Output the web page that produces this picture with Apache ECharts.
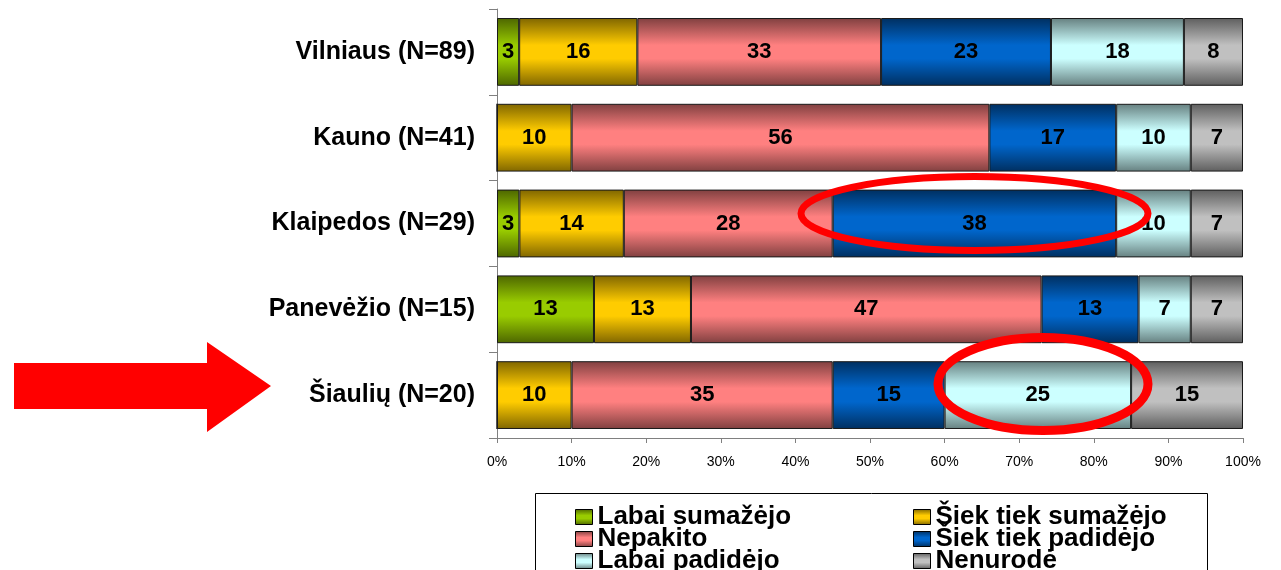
<!DOCTYPE html>
<html>
<head>
<meta charset="utf-8">
<script src="https://cdn.jsdelivr.net/npm/echarts@6/dist/echarts.min.js"></script>
<style>
  html, body { margin: 0; padding: 0; background: #fff; }
  #chart { width: 1281px; height: 570px; }
</style>
</head>
<body>
<div id="chart"></div>
<script>
// regions, top to bottom
const regions = ['Vilniaus (N=89)', 'Kauno (N=41)', 'Klaipedos (N=29)', 'Panevėžio (N=15)', 'Šiaulių (N=20)'];

// answers per region (raw values as printed on the bars)
const labaiSumazejo = [3, 0, 3, 13, 0];
const siekTiekSumazejo = [16, 10, 14, 13, 10];
const nepakito = [33, 56, 28, 47, 35];
const siekTiekPadidejo = [23, 17, 38, 13, 15];
const labaiPadidejo = [18, 10, 10, 7, 25];
const nenurode = [8, 7, 7, 7, 15];

const xTicks = [0, 10, 20, 30, 40, 50, 60, 70, 80, 90, 100];

const seriesNames = ['Labai sumažėjo', 'Šiek tiek sumažėjo', 'Nepakito', 'Šiek tiek padidėjo', 'Labai padidėjo', 'Nenurodė'];
const seriesValues = [labaiSumazejo, siekTiekSumazejo, nepakito, siekTiekPadidejo, labaiPadidejo, nenurode];
// [dark edge, bright middle]
const colors = [
  ['#4d6600', '#99cc00'],
  ['#806600', '#ffcc00'],
  ['#804040', '#ff8080'],
  ['#002f60', '#0066cc'],
  ['#668080', '#ccffff'],
  ['#5e5e5e', '#c0c0c0']
];

const FONT = '"Liberation Sans", Arial, sans-serif';

// row totals for the 100% stacking
const totals = regions.map((r, i) => seriesValues.reduce((s, arr) => s + arr[i], 0));

function shade(c) {
  return new echarts.graphic.LinearGradient(0, 0, 0, 1, [
    { offset: 0, color: c[0] },
    { offset: 0.4, color: c[1] },
    { offset: 0.6, color: c[1] },
    { offset: 1, color: c[0] }
  ]);
}

const series = seriesNames.map((name, k) => ({
  name: name,
  type: 'bar',
  stack: 'all',
  barCategoryGap: '21%',
  data: seriesValues[k].map((v, i) => ({ value: v / totals[i] * 100, raw: v })),
  itemStyle: { color: shade(colors[k]), borderColor: '#1a1a1a', borderWidth: 1 },
  label: {
    show: true,
    position: 'inside',
    color: '#000',
    fontFamily: FONT,
    fontWeight: 'bold',
    fontSize: 22,
    formatter: p => (p.data.raw ? String(p.data.raw) : '')
  }
}));

const legendCommon = {
  orient: 'vertical',
  top: 499,
  height: 120,
  icon: 'rect',
  itemWidth: 17,
  itemHeight: 15,
  itemGap: -4,
  itemStyle: { borderColor: '#000', borderWidth: 1 },
  textStyle: { fontFamily: FONT, fontWeight: 'bold', fontSize: 26, color: '#000', lineHeight: 15 }
};

const chart = echarts.init(document.getElementById('chart'));
chart.setOption({
  animation: false,
  grid: { left: 497, right: 38, top: 9, bottom: 132 },
  xAxis: {
    type: 'value',
    min: 0,
    max: 100,
    interval: 10,
    splitLine: { show: false },
    axisLine: { show: true, lineStyle: { color: '#808080', width: 1 } },
    axisTick: { show: true, length: 5, lineStyle: { color: '#808080' } },
    axisLabel: {
      margin: 17,
      color: '#000',
      fontFamily: FONT,
      fontSize: 14,
      formatter: v => (xTicks.indexOf(v) >= 0 ? v + '%' : '')
    }
  },
  yAxis: {
    type: 'category',
    inverse: true,
    data: regions,
    axisLine: { show: true, lineStyle: { color: '#808080', width: 1 } },
    axisTick: { show: true, length: 8, lineStyle: { color: '#808080' } },
    axisLabel: {
      margin: 22,
      color: '#000',
      fontFamily: FONT,
      fontWeight: 'bold',
      fontSize: 25
    }
  },
  legend: [
    Object.assign({ left: 570, data: [seriesNames[0], seriesNames[2], seriesNames[4]] }, legendCommon),
    Object.assign({ left: 908, data: [seriesNames[1], seriesNames[3], seriesNames[5]] }, legendCommon)
  ],
  graphic: [
    // legend frame
    {
      type: 'rect',
      shape: { x: 535.5, y: 493.5, width: 672, height: 100 },
      style: { fill: 'none', stroke: '#000', lineWidth: 1 },
      z: 0
    },
    // arrow pointing at Šiauliai
    {
      type: 'polygon',
      shape: { points: [[14, 363], [207, 363], [207, 342], [271, 386], [207, 432], [207, 409], [14, 409]] },
      style: { fill: '#ff0000' },
      z: 10
    },
    {
      type: 'ellipse',
      shape: { cx: 974.5, cy: 213.5, rx: 173.5, ry: 37 },
      style: { fill: 'none', stroke: '#ff0000', lineWidth: 7 },
      z: 10
    },
    {
      type: 'ellipse',
      shape: { cx: 1043, cy: 384, rx: 105, ry: 46.5 },
      style: { fill: 'none', stroke: '#ff0000', lineWidth: 9 },
      z: 10
    }
  ],
  series: series
});
</script>
</body>
</html>
